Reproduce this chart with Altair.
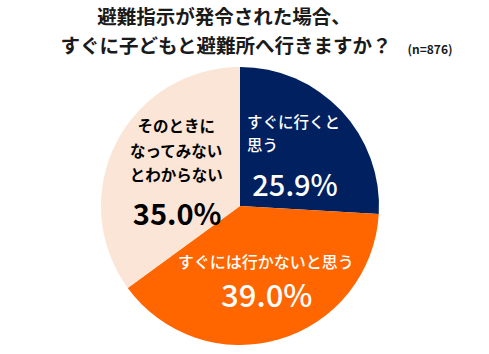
import altair as alt
import pandas as pd

categories = ["すぐに行くと思う", "すぐには行かないと思う", "そのときになってみないとわからない"]
label_lines = ["すぐに行くと\n思う", "すぐには行かないと思う", "そのときに\nなってみない\nとわからない"]
values = [25.9, 39.0, 35.0]
pct_labels = ["25.9%", "39.0%", "35.0%"]
colors = ["#002060", "#FF6600", "#FBE5D6"]
text_colors = ["white", "white", "black"]
title_lines = ["避難指示が発令された場合、", "すぐに子どもと避難所へ行きますか？"]
sample_note = "(n=876)"

df = pd.DataFrame({
    "cat": categories,
    "label": label_lines,
    "value": values,
    "pct": pct_labels,
    "order": list(range(len(categories))),
})

FONT = "Noto Sans CJK JP"
CX, CY, R = 240, 206, 139

base = alt.Chart(df)

pie = base.mark_arc(outerRadius=R).encode(
    theta=alt.Theta("value:Q", stack=True),
    color=alt.Color("cat:N", scale=alt.Scale(domain=categories, range=colors), legend=None),
    order=alt.Order("order:Q"),
    x=alt.value(CX),
    y=alt.value(CY),
)

mid_base = base.transform_window(
    cum="sum(value)", sort=[alt.SortField("order")], frame=[None, 0]
).transform_calculate(mid="datum.cum - datum.value / 2")


def txt(cat_idx, field, size, weight, dx, dy, align="center", line_height=None, color="white"):
    kw = dict(font=FONT, fontSize=size, fontWeight=weight, align=align,
              baseline="middle", dx=dx, dy=dy, color=color, lineBreak="\n")
    if line_height:
        kw["lineHeight"] = line_height
    return mid_base.transform_filter(
        alt.datum.cat == categories[cat_idx]
    ).mark_text(**kw).encode(
        theta=alt.Theta("mid:Q", stack=False),
        radius=alt.value(75),
        text=alt.Text(f"{field}:N"),
        x=alt.value(CX),
        y=alt.value(CY),
    )


layers = [
    pie,
    txt(0, "label", 15.5, 500, -47.5, -32, align="left", line_height=23, color=text_colors[0]),
    txt(0, "pct", 29, 500, 0.5, 32.5, color=text_colors[0]),
    txt(1, "label", 16, 500, 4.6, -15, color=text_colors[1]),
    txt(1, "pct", 31, 500, 5.6, 20, color=text_colors[1]),
    txt(2, "label", 15.5, 700, 3, -45, line_height=24.5, color=text_colors[2]),
    txt(2, "pct", 29, 700, 4, 43.5, color=text_colors[2]),
]

t1 = alt.Chart(pd.DataFrame({"t": [title_lines[0]]})).mark_text(
    font=FONT, fontSize=19.5, fontWeight="bold", color="#1a1a1a", align="center", baseline="middle"
).encode(text="t:N", x=alt.value(224), y=alt.value(18))
t2 = alt.Chart(pd.DataFrame({"t": [title_lines[1]]})).mark_text(
    font=FONT, fontSize=19.5, fontWeight="bold", color="#1a1a1a", align="center", baseline="middle"
).encode(text="t:N", x=alt.value(226), y=alt.value(47))
t3 = alt.Chart(pd.DataFrame({"t": [sample_note]})).mark_text(
    font=FONT, fontSize=12, fontWeight="bold", color="#1a1a1a", align="center", baseline="middle"
).encode(text="t:N", x=alt.value(430), y=alt.value(50))

chart = alt.layer(*layers, t1, t2, t3).properties(
    width=489, height=354, padding=0, autosize=alt.AutoSizeParams(type="none"),
    background="white",
).configure_view(stroke=None)

chart.save("out.html", embed_options={"renderer": "svg", "actions": False})
